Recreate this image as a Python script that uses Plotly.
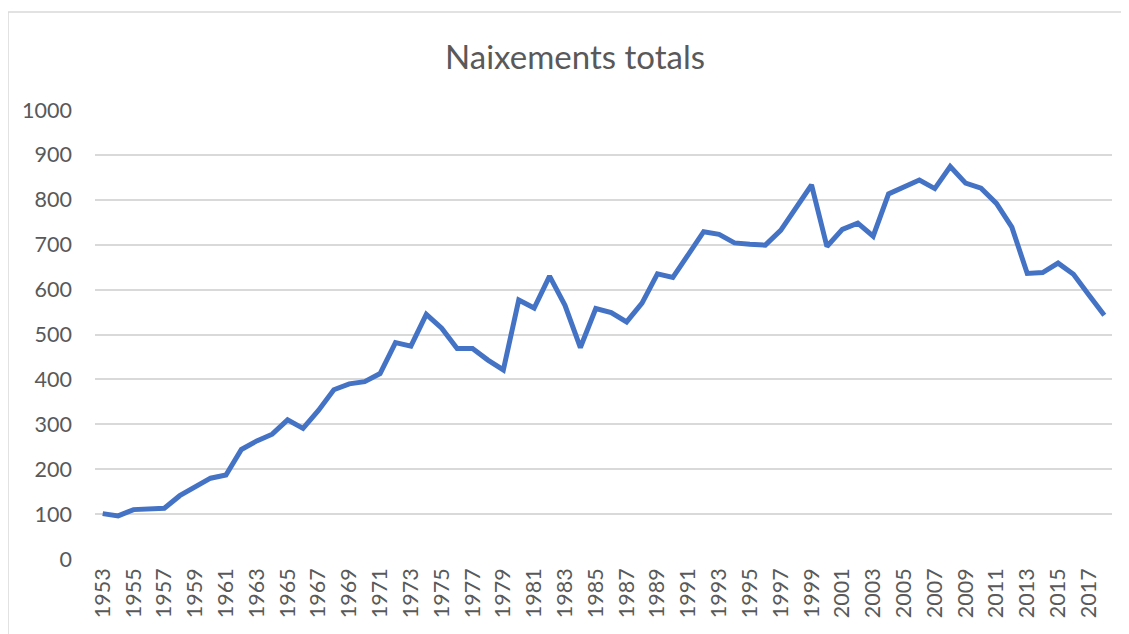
import plotly.graph_objects as go

years = [str(y) for y in range(1953, 2019)]
births = [101, 96, 110, 111, 113, 141, 160, 180, 187, 244, 263, 278, 310, 291, 331, 377,
          390, 395, 413, 482, 474, 545, 514, 469, 469, 443, 421, 577, 559, 630, 565, 471,
          558, 549, 528, 570, 635, 627, 678, 729, 723, 704, 701, 699, 732, 781, 833, 696,
          734, 748, 719, 813, 828, 844, 825, 874, 837, 826, 792, 739, 636, 638, 659, 634,
          588, 543]
tick_years = [str(y) for y in range(1953, 2019, 2)]
y_ticks = list(range(0, 1001, 100))

title_text = "Naixements totals"
font_family = "Lato, 'Open Sans', sans-serif"
text_color = "#595959"
grid_color = "#D9D9D9"
line_color = "#4472C4"

# page body has an 8px margin, so the figure is drawn at offset (8, 8)
W, H = 1121, 626

fig = go.Figure()
fig.add_trace(go.Scatter(
    x=years, y=births, mode="lines",
    line=dict(color=line_color, width=5),
    hoverinfo="x+y", showlegend=False,
))

fig.update_layout(
    width=W, height=H,
    margin=dict(l=87, r=17, t=102, b=75),
    paper_bgcolor="white", plot_bgcolor="white",
    font=dict(family=font_family, color=text_color),
    title=dict(text=title_text, x=567 / W, xref="container", xanchor="center",
               y=1 - 49 / H, yref="container", yanchor="middle",
               font=dict(size=33, color=text_color, family=font_family)),
    shapes=[dict(type="rect", xref="paper", yref="paper",
                 x0=-87 / 1017, x1=2, y0=-2, y1=547 / 449,
                 line=dict(color=grid_color, width=1.5), fillcolor="rgba(0,0,0,0)",
                 layer="below")],
)

fig.update_xaxes(
    type="category", range=[-0.5, len(years) - 0.5],
    tickmode="array", tickvals=tick_years, ticktext=tick_years,
    tickangle=-90, tickfont=dict(size=21.5, color=text_color),
    showgrid=False, showline=False, zeroline=False, ticks="",
    ticklabelstandoff=4,
)
fig.update_yaxes(
    range=[0, 1000], tickmode="array", tickvals=y_ticks,
    tickfont=dict(size=21.5, color=text_color),
    showgrid=True, gridcolor=grid_color, gridwidth=1.5,
    zeroline=False, showline=False, ticks="",
    ticklabelstandoff=22,
)

fig.write_html("out.html")
